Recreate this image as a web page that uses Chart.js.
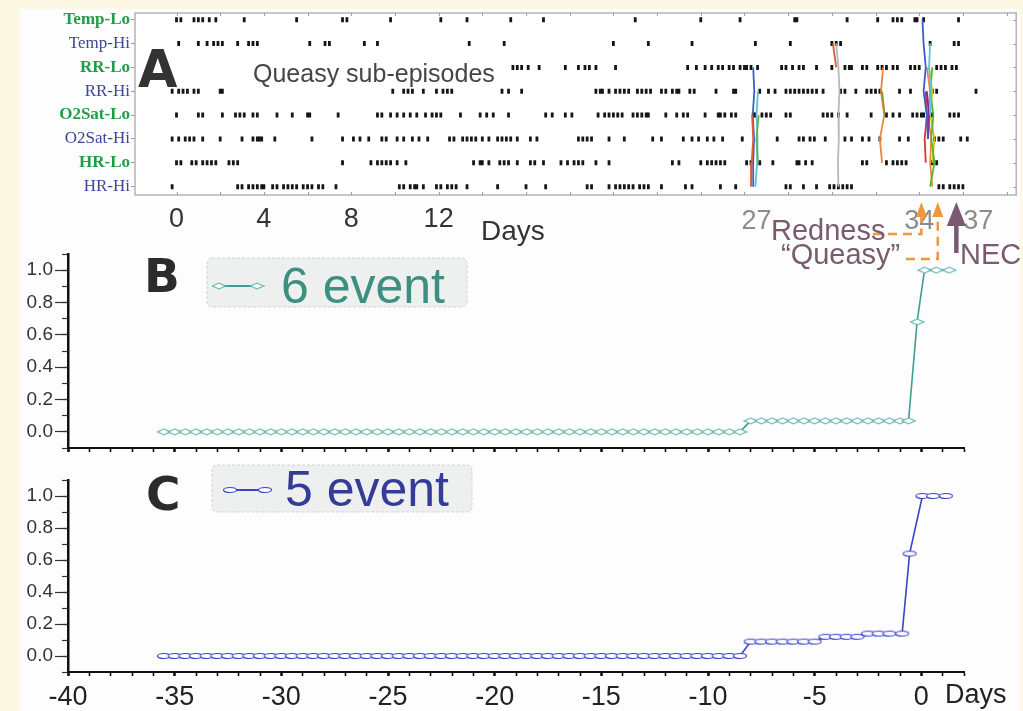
<!DOCTYPE html>
<html><head><meta charset="utf-8">
<script src="https://cdn.jsdelivr.net/npm/chart.js@4.4.1/dist/chart.umd.min.js"></script>
<style>
html,body{margin:0;padding:0;}
body{width:1023px;height:711px;background:#fdf8e3;position:relative;overflow:hidden;}
#paper{position:absolute;left:20px;top:9px;width:1000px;height:702px;background:#fdfdfd;}
canvas{position:absolute;left:0;}
#cA{top:0;width:1023px;height:280px;}
#cB{top:240px;width:1023px;height:232px;}
#cC{top:462px;width:1023px;height:249px;}
</style></head><body>
<div id="paper"></div>
<canvas id="cC" width="1023" height="249"></canvas>
<canvas id="cB" width="1023" height="232"></canvas>
<canvas id="cA" width="1023" height="280"></canvas>
<script>
// ---------- Panel A data (days since start) ----------
const rowLabels = ['Temp-Lo','Temp-Hi','RR-Lo','RR-Hi','O2Sat-Lo','O2Sat-Hi','HR-Lo','HR-Hi'];
const rowPos = [8,7,6,5,4,3,2,1];
const tempLo = [0.0,0.2,0.8,1.0,1.2,1.5,1.8,3.1,5.5,7.6,7.8,9.8,12.1,13.3,15.3,16.8,21.0,24.0,25.8,28.3,28.4,30.7,32.1,32.8,33.0,33.2,33.8,33.9,34.2,35.8];
const tempHi = [0.1,1.0,1.4,1.7,1.9,2.1,2.8,3.3,3.5,3.7,6.1,6.8,7.0,8.6,9.2,13.4,15.0,20.0,21.6,23.6,26.5,28.1,30.0,30.2,30.4,34.5,35.6,35.8];
const rrLo = [15.4,15.6,15.8,16.1,16.6,17.8,18.4,18.7,18.9,19.2,20.1,23.4,23.8,24.2,24.5,24.8,25.0,25.3,25.5,25.8,26.0,26.1,26.3,26.6,27.7,27.9,28.2,28.5,28.7,29.3,30.0,30.6,30.8,30.9,31.4,31.6,32.1,32.3,32.5,32.8,33.0,33.6,33.8,34.0,34.8,35.0,35.2,35.5,35.7];
const rrHi = [-0.2,0.1,0.3,0.5,0.8,1.0,2.0,2.1,9.9,10.4,10.6,10.8,11.3,11.9,12.2,12.4,12.6,14.9,15.2,15.8,19.2,19.4,19.5,19.8,20.1,20.3,20.5,20.7,21.1,21.3,21.5,21.7,22.2,22.4,22.7,22.9,23.0,23.5,23.7,24.7,25.5,25.6,26.7,27.1,27.4,27.9,28.1,28.3,28.5,28.7,28.9,29.1,29.3,29.6,30.4,30.6,31.1,31.6,31.8,32.0,32.2,33.1,33.6,34.6,34.8,36.6];
const o2Lo = [0.0,1.0,1.2,2.1,2.7,2.9,3.1,3.5,3.7,4.6,5.3,6.0,6.1,7.4,9.2,9.4,9.8,10.1,10.4,10.7,11.0,11.4,11.7,11.9,12.1,13.0,13.9,14.2,14.5,15.2,16.9,17.2,17.8,18.1,19.3,19.6,19.8,20.0,20.2,20.4,20.9,21.1,21.3,21.5,21.6,22.4,22.9,23.2,23.4,24.2,24.8,24.9,25.1,25.4,25.6,26.4,26.5,26.8,27.0,27.2,27.9,28.1,29.6,29.8,30.0,30.3,30.7,31.8,32.5,32.8,33.1,33.7,33.9,34.1,34.2,34.6,35.4,35.6,35.8];
const o2Hi = [-0.2,0.1,0.4,0.6,0.8,1.2,2.0,3.0,3.5,3.7,3.8,3.9,4.5,6.2,7.6,8.1,8.4,8.8,9.4,9.6,10.1,10.4,10.8,11.1,11.5,12.5,12.7,13.1,13.3,13.5,13.7,14.0,14.3,14.7,14.9,15.1,15.3,15.6,16.2,16.5,18.4,18.6,18.8,19.0,19.8,20.5,21.8,22.2,23.2,23.6,23.9,24.3,24.6,25.0,25.9,27.5,28.5,28.7,29.0,29.2,29.7,30.6,30.9,31.4,31.7,32.2,33.1,33.5,34.7,34.9,35.1,35.9,36.2];
const hrLo = [0.0,0.2,0.7,0.9,1.2,1.4,1.6,1.8,2.4,2.6,2.8,7.6,8.9,9.2,9.4,9.6,9.8,10.1,10.5,13.6,13.9,14.0,14.3,14.8,15.0,15.2,15.6,16.2,16.4,16.8,17.6,17.9,18.2,18.4,18.6,19.2,19.8,22.7,23.0,24.0,24.3,24.5,24.7,24.9,25.1,26.1,26.3,26.7,27.3,28.4,28.5,28.8,29.1,31.4,31.6,32.5,32.8,33.0,33.2,33.4,34.6,34.8];
const hrHi = [-0.2,2.8,3.0,3.3,3.5,3.7,3.9,4.0,4.4,4.6,4.9,5.1,5.3,5.5,5.8,6.0,6.2,6.5,6.7,7.3,10.2,10.4,10.7,10.9,11.0,11.3,11.9,12.1,12.4,12.6,12.8,13.3,14.7,16.0,16.9,18.8,19.0,19.8,20.1,20.3,20.5,20.7,20.9,21.2,21.4,21.6,22.2,23.3,23.6,24.9,25.6,27.9,28.1,28.7,29.3,29.9,30.1,30.3,30.5,30.7,30.9,34.9,35.1,35.4,35.6,35.8,36.0];
const rowEvents = [tempLo,tempHi,rrLo,rrHi,o2Lo,o2Hi,hrLo,hrHi];

// queasy sub-episode traces (day, row)
const q1BlueX = [26.40,26.45,26.38,26.44,26.40,26.40], q1BlueRows = [6,5,4,3,2,1];
const q1RedX = [26.35,26.40,26.33,26.30], q1RedRows = [4,3,2,1];
const q1CyanX = [26.62,26.55,26.60,26.58,26.50], q1CyanRows = [5,4,3,2,1];
const q1GreenX = [26.65,26.55,26.62], q1GreenRows = [4,3,2];
const q2GrayX = [30.20,30.30,30.35,30.30,30.32,30.28,30.30], q2GrayRows = [7,6,5,4,3,2,1];
const q2RedX = [30.05,30.20], q2RedRows = [7,6];
const q3OrangeX = [32.35,32.25,32.40,32.20,32.30], q3OrangeRows = [6,5,4,3,2];
const q3OliveX = [32.30,32.42], q3OliveRows = [5,4];
const q4BlueX = [34.15,34.20,34.30,34.20,34.35,34.40], q4BlueRows = [8,7,6,5,4,3];
const q4CyanX = [34.50,34.45,34.55,34.50], q4CyanRows = [7,6,5,4];
const q4OrangeX = [34.35,34.50,34.40,34.55,34.50,34.60], q4OrangeRows = [6,5,4,3,2,1];
const q4YellowX = [34.45,34.60,34.50,34.70,34.60], q4YellowRows = [6,5,4,3,2];
const q4GreenX = [34.60,34.50,34.65,34.55,34.70,34.50], q4GreenRows = [6,5,4,3,2,1];
const q4RedX = [34.30,34.35,34.25,34.30], q4RedRows = [5,4,3,2];
const q4PurpleX = [34.35,34.45,34.40], q4PurpleRows = [5,4,3];

const aXTicks = [0,2,4,6,8,10,12,14,16,18,20,22,24,26,28,30,32,34,36,38];
const aXLabels = [0,4,8,12];
const episodeLabels = ['27','34','37'];
const episodeDays = [26.55,34.0,36.7];
const arrowDays = {redness:34.1, queasy:34.85, nec:35.7};

// ---------- Panels B and C data (days relative to NEC) ----------
const bDays = [-35.5,-35,-34.5,-34,-33.5,-33,-32.5,-32,-31.5,-31,-30.5,-30,-29.5,-29,-28.5,-28,-27.5,-27,-26.5,-26,-25.5,-25,-24.5,-24,-23.5,-23,-22.5,-22,-21.5,-21,-20.5,-20,-19.5,-19,-18.5,-18,-17.5,-17,-16.5,-16,-15.5,-15,-14.5,-14,-13.5,-13,-12.5,-12,-11.5,-11,-10.5,-10,-9.5,-9,-8.5,
  -8,-7.5,-7,-6.5,-6,-5.5,-5,-4.5,-4,-3.5,-3,-2.5,-2,-1.5,-1,-0.6,
  -0.2,0.15,0.7,1.3];
const bVals = [0,0,0,0,0,0,0,0,0,0,0,0,0,0,0,0,0,0,0,0,0,0,0,0,0,0,0,0,0,0,0,0,0,0,0,0,0,0,0,0,0,0,0,0,0,0,0,0,0,0,0,0,0,0,0,
  0.068,0.068,0.068,0.068,0.068,0.068,0.068,0.068,0.068,0.068,0.068,0.068,0.068,0.068,0.068,0.068,
  0.68,1.0,1.0,1.0];
const cDays = [-35.5,-35,-34.5,-34,-33.5,-33,-32.5,-32,-31.5,-31,-30.5,-30,-29.5,-29,-28.5,-28,-27.5,-27,-26.5,-26,-25.5,-25,-24.5,-24,-23.5,-23,-22.5,-22,-21.5,-21,-20.5,-20,-19.5,-19,-18.5,-18,-17.5,-17,-16.5,-16,-15.5,-15,-14.5,-14,-13.5,-13,-12.5,-12,-11.5,-11,-10.5,-10,-9.5,-9,-8.5,
  -8,-7.5,-7,-6.5,-6,-5.5,-5,
  -4.5,-4,-3.5,-3,
  -2.5,-2,-1.5,-0.9,
  -0.55,0.05,0.55,1.15];
const cVals = [0,0,0,0,0,0,0,0,0,0,0,0,0,0,0,0,0,0,0,0,0,0,0,0,0,0,0,0,0,0,0,0,0,0,0,0,0,0,0,0,0,0,0,0,0,0,0,0,0,0,0,0,0,0,0,
  0.09,0.09,0.09,0.09,0.09,0.09,0.09,
  0.12,0.12,0.12,0.12,
  0.14,0.14,0.14,0.14,
  0.64,1.0,1.0,1.0];
const yMajorTicks = [0,0.2,0.4,0.6,0.8,1.0];
const yMinorTicks = [-0.1,0,0.1,0.2,0.3,0.4,0.5,0.6,0.7,0.8,0.9,1.0,1.1];
const bLegendLabel = '6 event';
const cLegendLabel = '5 event';

// ---------- helpers ----------
const SANS = '"Liberation Sans", Arial, sans-serif';
function makeDiamond(w,h,stroke){
  const c=document.createElement('canvas'); c.width=w+2; c.height=h+2;
  const g=c.getContext('2d'); g.beginPath();
  g.moveTo(1,h/2+1); g.lineTo(w/2+1,1); g.lineTo(w+1,h/2+1); g.lineTo(w/2+1,h+1); g.closePath();
  g.fillStyle='#fff'; g.fill(); g.strokeStyle=stroke; g.lineWidth=1.1; g.stroke(); return c;
}
function makeEllipse(w,h,stroke){
  const c=document.createElement('canvas'); c.width=w+2; c.height=h+2;
  const g=c.getContext('2d'); g.beginPath();
  g.ellipse(w/2+1,h/2+1,w/2-0.5,h/2-0.5,0,0,Math.PI*2);
  g.fillStyle='#fff'; g.fill(); g.strokeStyle=stroke; g.lineWidth=1.2; g.stroke(); return c;
}
const diamondImg = makeDiamond(13,6,'#5fb3a9');
const ellipseImg = makeEllipse(14,6,'#3b44c6');
function tickVal(c){ return (c && c.tick) ? c.tick.value : undefined; }
function rowLabelOf(v){ const i=rowPos.indexOf(v); return i>=0 ? rowLabels[i] : ''; }

// ---------- Panel A ----------
function trace(xs, rows, color){
  return {data: xs.map((x,i)=>({x:x, y:rows[i]})), showLine:true, borderColor:color, borderWidth:1.8,
          pointRadius:0, tension:0, fill:false};
}
const queasySets = [
  trace(q4BlueX,q4BlueRows,'#3b5bd0'), trace(q4CyanX,q4CyanRows,'#5cc6d8'),
  trace(q4PurpleX,q4PurpleRows,'#7b2f9e'), trace(q4RedX,q4RedRows,'#e23030'),
  trace(q4GreenX,q4GreenRows,'#52b830'), trace(q4YellowX,q4YellowRows,'#d6c21c'),
  trace(q4OrangeX,q4OrangeRows,'#f08a3a'),
  trace(q3OliveX,q3OliveRows,'#8c9a3a'), trace(q3OrangeX,q3OrangeRows,'#f0843a'),
  trace(q2RedX,q2RedRows,'#d0603a'), trace(q2GrayX,q2GrayRows,'#b8b8b8'),
  trace(q1GreenX,q1GreenRows,'#6ab04c'), trace(q1CyanX,q1CyanRows,'#5bc0d0'),
  trace(q1RedX,q1RedRows,'#e05a3a'), trace(q1BlueX,q1BlueRows,'#3a5fcd')
];
const markSets = rowEvents.map((arr,i)=>({
  data: arr.map(d=>({x:d, y:rowPos[i]})),
  pointStyle:'line', pointRotation:90, pointRadius:2.5, pointBorderWidth:2.8,
  pointBorderColor:'#151515', borderColor:'#151515', backgroundColor:'#151515', showLine:false
}));

function arrowHead(ctx,x,tipY,baseY,half,color){
  ctx.fillStyle=color; ctx.beginPath(); ctx.moveTo(x,tipY); ctx.lineTo(x-half,baseY); ctx.lineTo(x+half,baseY); ctx.closePath(); ctx.fill();
}
const annotA = {
  id:'annotA',
  beforeDatasetsDraw(chart){
    const {ctx, chartArea:a, scales:{x,y}} = chart;
    ctx.save();
    ctx.fillStyle='#ffffff'; ctx.fillRect(a.left,a.top,a.right-a.left,a.bottom-a.top);
    ctx.strokeStyle='#b4b4b4'; ctx.lineWidth=1.5; ctx.strokeRect(a.left,a.top,a.right-a.left,a.bottom-a.top);
    ctx.strokeStyle='#9a9a9a'; ctx.lineWidth=1;
    aXTicks.forEach(v=>{const px=Math.round(x.getPixelForValue(v))+0.5;
      ctx.beginPath(); ctx.moveTo(px,a.bottom); ctx.lineTo(px,a.bottom-3); ctx.moveTo(px,a.top); ctx.lineTo(px,a.top+3); ctx.stroke();});
    rowPos.forEach(v=>{const py=Math.round(y.getPixelForValue(v))+0.5;
      ctx.beginPath(); ctx.moveTo(a.right,py); ctx.lineTo(a.right-3,py); ctx.stroke();});
    ctx.restore();
  },
  afterDatasetsDraw(chart){
    const {ctx} = chart;
    ctx.save();
    ctx.fillStyle='#333'; ctx.font='bold 51px "DejaVu Sans", sans-serif'; ctx.textBaseline='alphabetic';
    ctx.fillText('A',138,87);
    ctx.fillStyle='#454545'; ctx.font='25px '+SANS;
    ctx.fillText('Queasy sub-episodes',253,82);
    ctx.restore();
  },
  afterDraw(chart){
    const {ctx, scales:{x}} = chart;
    ctx.save();
    ctx.textBaseline='alphabetic';
    ctx.fillStyle='#333'; ctx.font='28px '+SANS; ctx.fillText('Days',481,240);
    ctx.fillStyle='#8c8c8c'; ctx.font='27px '+SANS; ctx.textAlign='center';
    episodeLabels.forEach((t,i)=>ctx.fillText(t, x.getPixelForValue(episodeDays[i]), 229));
    ctx.textAlign='left';
    const xr = x.getPixelForValue(arrowDays.redness), xq = x.getPixelForValue(arrowDays.queasy), xn = x.getPixelForValue(arrowDays.nec);
    ctx.strokeStyle='#f0963c'; ctx.lineWidth=2.5; ctx.setLineDash([9,6]);
    ctx.beginPath(); ctx.moveTo(873,234); ctx.lineTo(xr,234); ctx.lineTo(xr,214); ctx.stroke();
    ctx.beginPath(); ctx.moveTo(906,259); ctx.lineTo(xq,259); ctx.lineTo(xq,214); ctx.stroke();
    ctx.setLineDash([]);
    arrowHead(ctx,xr,202,217,5.5,'#f0963c');
    arrowHead(ctx,xq,202,217,5.5,'#f0963c');
    ctx.strokeStyle='#7a5a72'; ctx.lineWidth=4.5; ctx.beginPath(); ctx.moveTo(xn,253); ctx.lineTo(xn,222); ctx.stroke();
    arrowHead(ctx,xn,202,226,9.5,'#7a5a72');
    ctx.fillStyle='#7a5a6e'; ctx.font='29px '+SANS;
    ctx.fillText('Redness',771,240);
    ctx.fillText('\u201CQueasy\u201D',781,264);
    ctx.fillText('NEC',960,264);
    ctx.restore();
  }
};

try {
new Chart(document.getElementById('cA'), {
  type:'scatter',
  data:{datasets:[...queasySets, ...markSets]},
  options:{
    responsive:false, animation:false, events:[],
    layout:{padding:{left:10,right:6,top:13,bottom:40}},
    plugins:{legend:{display:false}, tooltip:{enabled:false}},
    scales:{
      x:{type:'linear', min:-1.9, max:38.44,
        afterBuildTicks:s=>{s.ticks=aXTicks.map(v=>({value:v}));},
        afterFit:s=>{s.height=45;},
        ticks:{autoSkip:false, maxRotation:0, padding:8, color:'#333', font:{family:SANS,size:27},
          callback:v=>aXLabels.includes(v)?String(v):''},
        grid:{drawOnChartArea:false, drawTicks:false},
        border:{display:false}},
      y:{type:'linear', min:0.65, max:8.28,
        afterBuildTicks:s=>{s.ticks=[...rowPos].sort((p,q)=>p-q).map(v=>({value:v}));},
        afterFit:s=>{s.width=125;},
        ticks:{autoSkip:false, padding:1,
          callback:v=>rowLabelOf(v),
          color:c=>rowLabelOf(tickVal(c)).endsWith('Lo')?'#1f9e48':'#3d4596',
          font:c=>({family:'"Liberation Serif", serif', size:17, weight:rowLabelOf(tickVal(c)).endsWith('Lo')?'bold':'normal'})},
        grid:{drawOnChartArea:false, tickLength:4, color:'#9a9a9a'},
        border:{display:false}}
    }
  },
  plugins:[annotA]
});
} catch(e) { console.error(e); }

// ---------- Panels B and C ----------
function cumScales(showLabels, xHeight){
  return {
    x:{type:'linear', min:-40, max:2,
      afterFit:s=>{s.height=xHeight;},
      ticks:{display:showLabels, stepSize:1, autoSkip:false, maxRotation:0, padding:5, color:'#222',
        font:{family:'"Liberation Sans Narrow", "Liberation Sans", Arial, sans-serif', size:27},
        callback:v=>(v%5===0 && v<=0)?String(v):''},
      grid:{drawOnChartArea:false, tickLength:4, color:'#111',
        tickWidth:c=>(tickVal(c)!==undefined && tickVal(c)%5===0)?2.6:1.6},
      border:{color:'#111', width:2}},
    y:{type:'linear', position:'left', weight:1, min:-0.1, max:1.1,
      afterBuildTicks:s=>{s.ticks=yMajorTicks.map(v=>({value:v}));},
      afterFit:s=>{s.width=62;},
      ticks:{padding:2, color:'#333', font:{family:SANS,size:19}, callback:v=>Number(v).toFixed(1)},
      grid:{drawOnChartArea:false, tickLength:13, color:'#333', tickWidth:1.2},
      border:{color:'#111', width:2.5}},
    yMinor:{type:'linear', position:'left', weight:0, min:-0.1, max:1.1,
      afterBuildTicks:s=>{s.ticks=yMinorTicks.map(v=>({value:v}));},
      afterFit:s=>{s.width=0;},
      ticks:{display:false},
      grid:{drawOnChartArea:false, tickLength:6, color:'#333', tickWidth:1.2},
      border:{display:false}}
  };
}
function legendBox(ctx,x,y,w,h){
  ctx.save();
  ctx.beginPath();
  if (ctx.roundRect) ctx.roundRect(x,y,w,h,5); else ctx.rect(x,y,w,h);
  ctx.fillStyle='#eef0ef'; ctx.fill();
  ctx.setLineDash([3,2]); ctx.strokeStyle='#cfd2d0'; ctx.lineWidth=1; ctx.stroke();
  ctx.restore();
}
const annotB = {
  id:'annotB',
  afterDraw(chart){
    const {ctx} = chart; ctx.save();
    ctx.fillStyle='#2b2b2b'; ctx.font='bold 47px "DejaVu Sans", sans-serif'; ctx.fillText('B',144,52);
    legendBox(ctx,207,18,260,49);
    ctx.strokeStyle='#3f9d92'; ctx.lineWidth=2; ctx.beginPath(); ctx.moveTo(218,46); ctx.lineTo(258,46); ctx.stroke();
    ctx.drawImage(diamondImg,219-diamondImg.width/2,46-diamondImg.height/2);
    ctx.drawImage(diamondImg,257-diamondImg.width/2,46-diamondImg.height/2);
    ctx.fillStyle='#3e8f82'; ctx.font='50px '+SANS; ctx.fillText(bLegendLabel,281,63);
    ctx.restore();
  }
};
const annotC = {
  id:'annotC',
  afterDraw(chart){
    const {ctx} = chart; ctx.save();
    ctx.fillStyle='#2b2b2b'; ctx.font='bold 47px "DejaVu Sans", sans-serif'; ctx.fillText('C',146,48);
    legendBox(ctx,212,3,260,47);
    ctx.strokeStyle='#3b44c6'; ctx.lineWidth=2; ctx.beginPath(); ctx.moveTo(232,28); ctx.lineTo(264,28); ctx.stroke();
    ctx.drawImage(ellipseImg,230-ellipseImg.width/2,28-ellipseImg.height/2);
    ctx.drawImage(ellipseImg,265-ellipseImg.width/2,28-ellipseImg.height/2);
    ctx.fillStyle='#343c98'; ctx.font='50px '+SANS; ctx.fillText(cLegendLabel,285,44);
    ctx.fillStyle='#222'; ctx.font='27px "Liberation Sans Narrow", "Liberation Sans", Arial, sans-serif';
    ctx.textBaseline='middle'; ctx.fillText('Days',945,234);
    ctx.restore();
  }
};

try {
new Chart(document.getElementById('cB'), {
  type:'scatter',
  data:{datasets:[{data:bDays.map((d,i)=>({x:d,y:bVals[i]})), showLine:true, tension:0,
    borderColor:'#3f9d92', borderWidth:1.6, pointStyle:diamondImg, pointRadius:6}]},
  options:{responsive:false, animation:false, events:[],
    layout:{padding:{left:6,right:59,top:14,bottom:14}},
    plugins:{legend:{display:false}, tooltip:{enabled:false}},
    scales:cumScales(false,10)},
  plugins:[annotB]
});
} catch(e) { console.error(e); }
try {
new Chart(document.getElementById('cC'), {
  type:'scatter',
  data:{datasets:[{data:cDays.map((d,i)=>({x:d,y:cVals[i]})), showLine:true, tension:0,
    borderColor:'#3b44c6', borderWidth:1.6, pointStyle:ellipseImg, pointRadius:6}]},
  options:{responsive:false, animation:false, events:[],
    layout:{padding:{left:6,right:59,top:18,bottom:0}},
    plugins:{legend:{display:false}, tooltip:{enabled:false}},
    scales:cumScales(true,39)},
  plugins:[annotC]
});
} catch(e) { console.error(e); }
</script>
</body></html>
